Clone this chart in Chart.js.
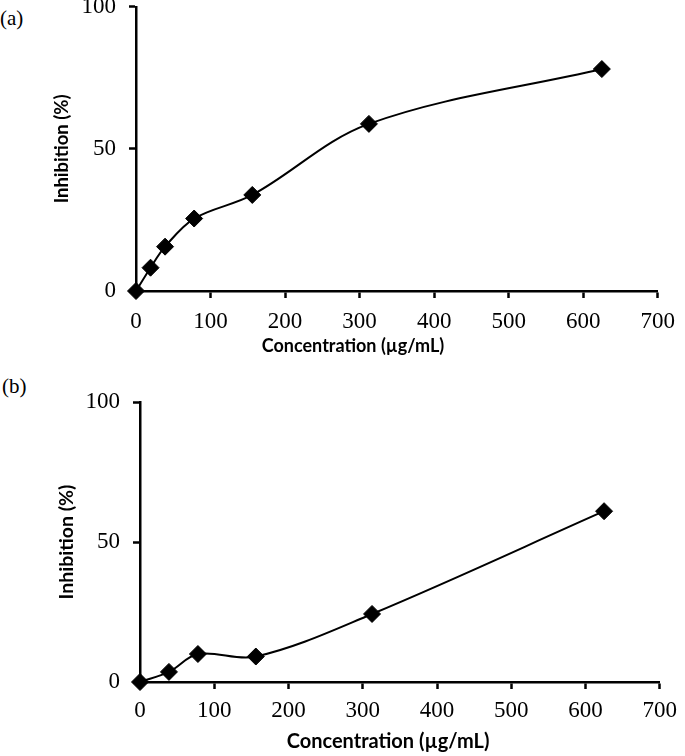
<!DOCTYPE html>
<html><head><meta charset="utf-8">
<script src="https://cdn.jsdelivr.net/npm/chart.js@4.4.1/dist/chart.umd.min.js"></script>
<style>
html,body{margin:0;padding:0;background:#fff;width:685px;height:756px;overflow:hidden;position:relative}
.wrap{position:absolute;left:0;width:685px}
.lbl{position:absolute;font-family:"Liberation Serif","Times New Roman",serif;font-size:21px;color:#000;line-height:1}
</style></head><body>
<div class="lbl" style="left:0;top:8px">(a)</div>
<div class="lbl" style="left:2px;top:376px">(b)</div>
<div class="wrap" style="top:-20px;height:380px"><canvas id="ca" width="685" height="380"></canvas></div>
<div class="wrap" style="top:360px;height:396px"><canvas id="cb" width="685" height="396"></canvas></div>
<script>
// ---- data ----
const concA = [0, 19.5, 39, 78, 156, 312.5, 625];
const inhibA = [0, 8.2, 15.6, 25.5, 33.8, 58.8, 78.1];
const concB = [0, 39, 78, 156, 312.5, 625];
const inhibB = [0, 3.6, 10.0, 9.1, 24.3, 61.0];
const xTicks = [0, 100, 200, 300, 400, 500, 600, 700];
const yTicks = [0, 50, 100];
const xTitle = 'Concentration (\u00B5g/mL)';
const yTitle = 'Inhibition (%)';

const serif = '"Liberation Serif","Times New Roman",serif';
const sans = 'Lato, "Open Sans", sans-serif';

// draws the x-axis title at the (off-centre) place it sits in the original figure
const xTitlePlugin = {
  id: 'xTitleAt',
  afterDraw(chart, args, opts) {
    const ctx = chart.ctx;
    ctx.save();
    ctx.font = 'bold ' + opts.size + 'px ' + sans;
    ctx.fillStyle = '#000';
    ctx.textAlign = 'center';
    ctx.textBaseline = 'middle';
    ctx.fillText(opts.text, opts.x, opts.y);
    ctx.restore();
  }
};

function makeChart(id, xs, ys, cfg) {
  return new Chart(document.getElementById(id), {
    type: 'line',
    plugins: [xTitlePlugin],
    data: { datasets: [{
      data: xs.map((x, i) => ({ x: x, y: ys[i] })),
      borderColor: '#000', borderWidth: 2, backgroundColor: '#000',
      pointStyle: 'rectRot', pointRadius: 8.5, pointBorderWidth: 1,
      pointBackgroundColor: '#000', pointBorderColor: '#000',
      tension: 0.35, clip: false, fill: false
    }] },
    options: {
      responsive: false, animation: false, events: [],
      layout: { padding: { left: 0, top: cfg.padTop, right: cfg.padRight, bottom: 0 } },
      plugins: {
        legend: { display: false }, tooltip: { enabled: false },
        xTitleAt: { text: xTitle, x: cfg.xtX, y: cfg.xtY, size: cfg.xtSize }
      },
      scales: {
        x: {
          type: 'linear', min: 0, max: 700,
          afterBuildTicks: s => { s.ticks = xTicks.map(v => ({ value: v })); },
          afterFit: s => { s.height = cfg.xH; },
          grid: { drawOnChartArea: false, drawTicks: true, tickLength: 7, tickWidth: cfg.lw, tickColor: '#000', color: '#000' },
          border: { display: true, color: '#000', width: cfg.lw },
          ticks: { color: '#000', padding: cfg.xPad, font: { family: serif, size: 23 }, maxRotation: 0, autoSkip: false },
          title: { display: false }
        },
        y: {
          min: 0, max: 100,
          afterBuildTicks: s => { s.ticks = yTicks.map(v => ({ value: v })); },
          afterFit: s => { s.width = cfg.yW; },
          grid: { drawOnChartArea: false, drawTicks: true, tickLength: 7, tickWidth: cfg.lw, tickColor: '#000', color: '#000' },
          border: { display: true, color: '#000', width: cfg.lw },
          ticks: { color: '#000', padding: 13, font: { family: serif, size: 23 } },
          title: { display: true, text: yTitle, color: '#000', font: { family: sans, weight: 'bold', size: cfg.ytSize }, padding: { top: cfg.ytPad, bottom: 0 } }
        }
      }
    }
  });
}

makeChart('ca', concA, inhibA, { padTop: 26, padRight: 22, xH: 69, yW: 136, xPad: 10, xtX: 353, xtY: 366, xtSize: 18, ytSize: 18.5, ytPad: 51.4, lw: 2.5 });
makeChart('cb', concB, inhibB, { padTop: 42, padRight: 19, xH: 74, yW: 140, xPad: 8, xtX: 388, xtY: 382, xtSize: 20, ytSize: 19.5, ytPad: 55.3, lw: 2.5 });
</script>
</body></html>
